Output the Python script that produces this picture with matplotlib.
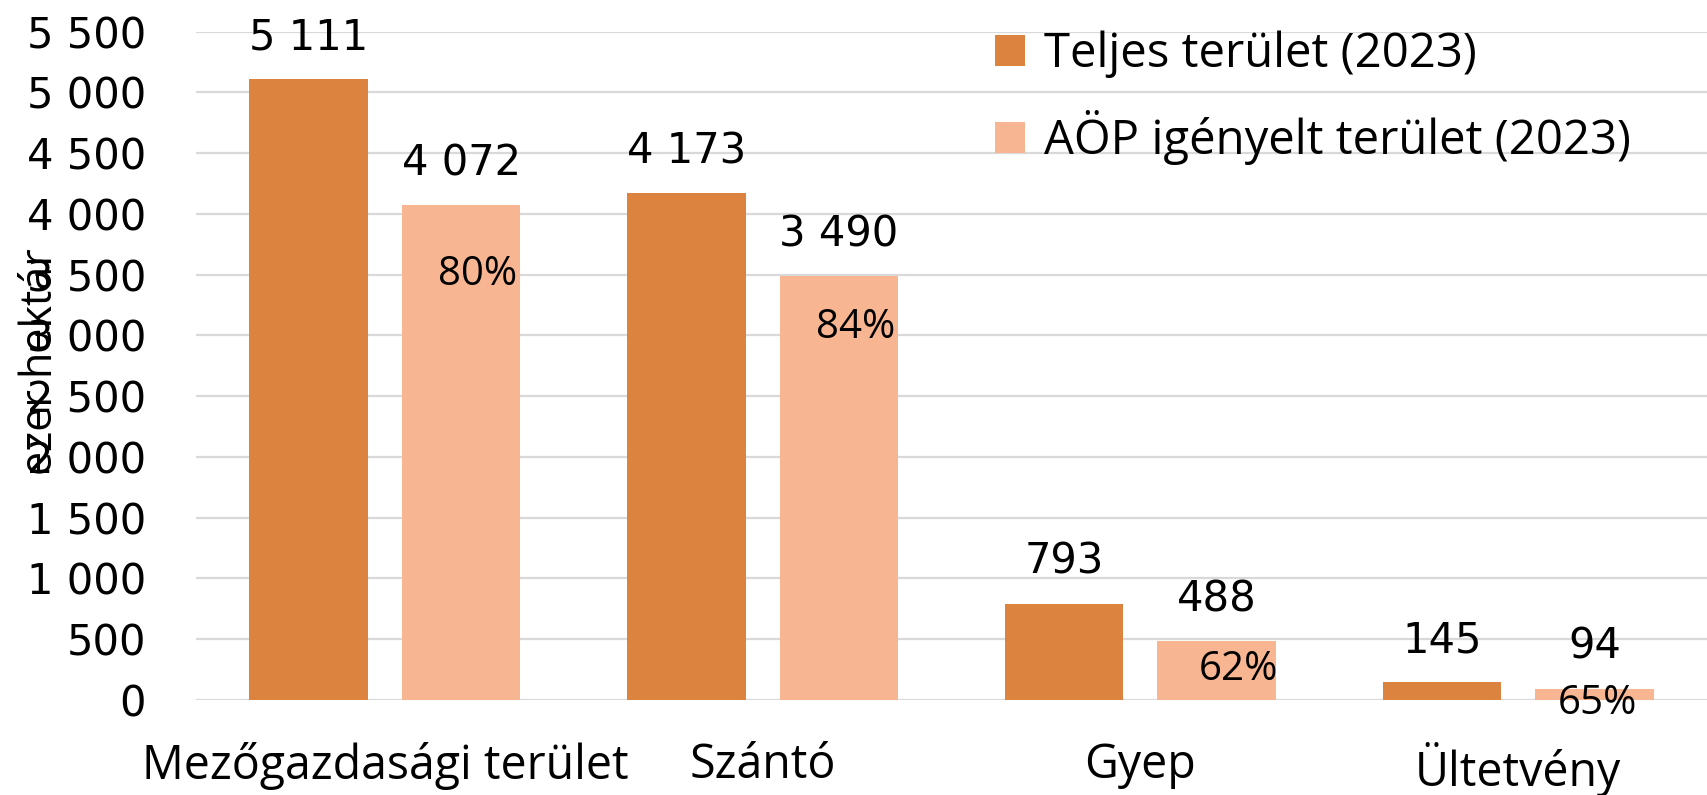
import matplotlib
matplotlib.use("Agg")
import matplotlib.pyplot as plt
import numpy as np

categories = ["Mezőgazdasági terület", "Szántó", "Gyep", "Ültetvény"]
teljes = [5111, 4173, 793, 145]
aop = [4072, 3490, 488, 94]
pct_labels = ["80%", "84%", "62%", "65%"]
series_names = ["Teljes terület (2023)", "AÖP igényelt terület (2023)"]
yticks = list(range(0, 5501, 500))

# label offsets (pixels) for percentage labels relative to bar top/centre
pct_dx = [16, 17, 22, 3]
pct_dy = [-70, -52, -29, -15]

c1 = "#DC843F"
c2 = "#F8B591"
W, H = 1707, 795
dpi = 100
fig = plt.figure(figsize=(W / dpi, H / dpi), dpi=dpi)
ax = fig.add_axes([196 / W, 1 - 700 / H, (W - 196) / W, (700 - 31.6) / H])

x = np.arange(len(categories))
bw = 0.314
off = 0.202
b1 = ax.bar(x - off, teljes, bw, color=c1, label=series_names[0], zorder=2)
b2 = ax.bar(x + off, aop, bw, color=c2, label=series_names[1], zorder=2)

ax.set_xlim(-0.5, 3.5)
ax.set_ylim(0, 5500)
ax.set_yticks(yticks)
fmt = lambda v: f"{v:,}".replace(",", " ")
ax.set_yticklabels([fmt(v) for v in yticks], fontsize=30, family="DejaVu Sans")
ax.yaxis.grid(True, color="#D9D9D9", linewidth=1.6, zorder=0)
ax.set_axisbelow(True)
for s in ax.spines.values():
    s.set_visible(False)
ax.tick_params(axis="y", length=0, pad=36)
ax.tick_params(axis="x", length=0, pad=30)
ax.set_xticks(x)
ax.set_xticklabels(categories, fontsize=33.5, family="Open Sans")

for bars, vals in ((b1, teljes), (b2, aop)):
    for r, v in zip(bars, vals):
        ax.annotate(fmt(v), (r.get_x() + r.get_width() / 2, v), xytext=(0, 30),
                    textcoords="offset points", ha="center", va="center",
                    fontsize=30, family="DejaVu Sans")

for i, (r, v) in enumerate(zip(b2, aop)):
    ax.annotate(pct_labels[i], (r.get_x() + r.get_width() / 2, v),
                xytext=(pct_dx[i] * 72 / dpi, pct_dy[i] * 72 / dpi),
                textcoords="offset points", ha="center", va="center",
                fontsize=29, family="Open Sans")

fig.text(41 / W, 1 - 362 / H, "ezer hektár", rotation=90, ha="center", va="center",
         fontsize=31, family="Open Sans")

leg = ax.legend(loc="upper left", bbox_to_anchor=((952 - 196) / (W - 196), 1.065),
                frameon=False, prop={"family": "Open Sans", "size": 34},
                handlelength=0.65, handleheight=0.65, handletextpad=0.4, labelspacing=0.68)

fig.savefig("out.png", dpi=dpi)
